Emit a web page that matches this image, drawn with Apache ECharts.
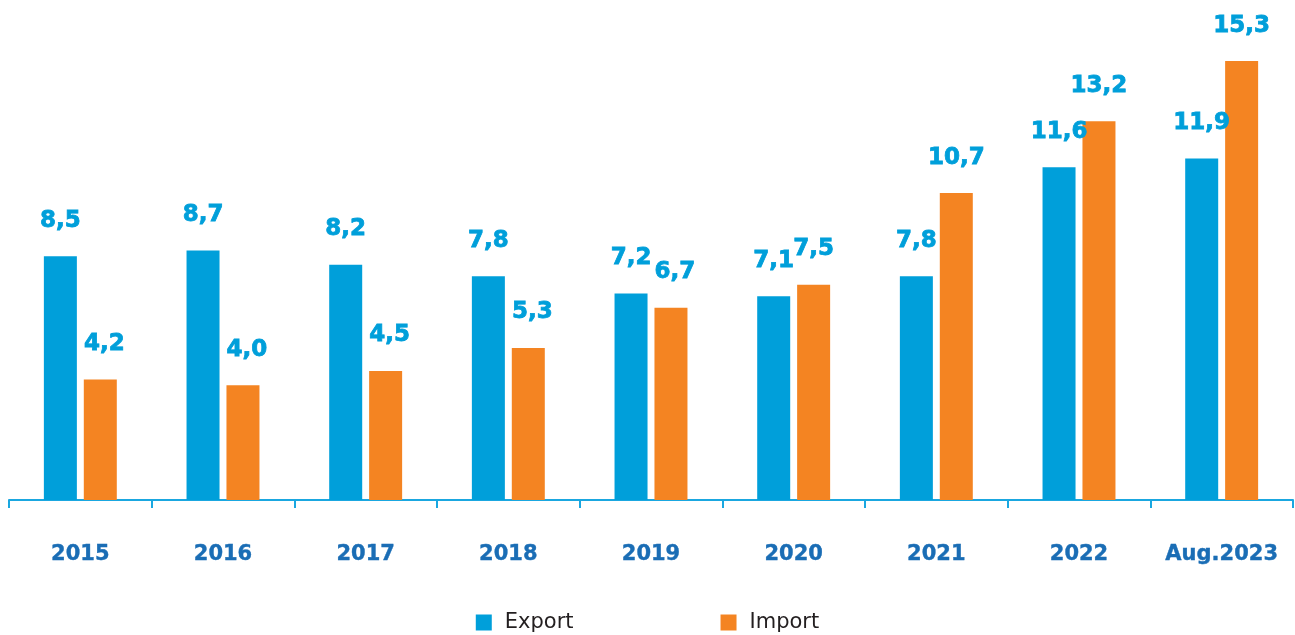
<!DOCTYPE html>
<html>
<head>
<meta charset="utf-8">
<script src="https://cdn.jsdelivr.net/npm/echarts@6/dist/echarts.min.js"></script>
<style>
  html, body { margin: 0; padding: 0; background: #fff; }
  #main { width: 1295px; height: 635px; }
</style>
</head>
<body>
<div id="main"></div>
<script>
const categories = ['2015', '2016', '2017', '2018', '2019', '2020', '2021', '2022', 'Aug.2023']
const exportData = [8.5, 8.7, 8.2, 7.8, 7.2, 7.1, 7.8, 11.6, 11.9]
const importData = [4.2, 4.0, 4.5, 5.3, 6.7, 7.5, 10.7, 13.2, 15.3]

const blue = '#009fda'
const orange = '#f48422'

// comma as decimal separator
const fmt = p => p.value.toFixed(1).replace('.', ',')

const labelStyle = {
  show: true,
  position: 'top',
  distance: 24,
  formatter: fmt,
  color: blue,
  fontFamily: 'DejaVu Sans',
  fontWeight: 'bold',
  fontSize: 23,
  textBorderColor: blue,
  textBorderWidth: 0.8
}

// import labels of the first years sit a bit to the right
const importSeriesData = importData.map((v, i) => ({
  value: v,
  label: i < 5 ? { offset: [4, 0] } : {}
}))

const chart = echarts.init(document.getElementById('main'))
chart.setOption({
  animation: false,
  grid: {
    left: 9,
    right: 2,
    top: 41,
    bottom: 135,
    containLabel: false
  },
  legend: {
    top: 612,
    left: 'center',
    padding: 0,
    itemWidth: 16,
    itemHeight: 16,
    itemGap: 147,
    icon: 'rect',
    textStyle: {
      color: '#231f20',
      fontFamily: 'DejaVu Sans',
      fontSize: 21,
      padding: [0, 0, 0, 8]
    },
    data: ['Export', 'Import']
  },
  xAxis: {
    type: 'category',
    data: categories,
    axisLine: {
      lineStyle: { color: '#1aa7e0', width: 2 }
    },
    axisTick: {
      show: true,
      length: 8,
      lineStyle: { color: '#1aa7e0', width: 2 }
    },
    axisLabel: {
      interval: 0,
      margin: 44,
      color: '#1a6db5',
      fontFamily: 'DejaVu Sans',
      fontWeight: 'bold',
      fontSize: 21,
      textBorderColor: '#1a6db5',
      textBorderWidth: 0.4
    }
  },
  yAxis: {
    type: 'value',
    min: 0,
    max: 16,
    show: false,
    splitLine: { show: false }
  },
  series: [
    {
      name: 'Export',
      type: 'bar',
      barWidth: 33,
      barGap: '21%',
      itemStyle: { color: blue },
      label: labelStyle,
      data: exportData
    },
    {
      name: 'Import',
      type: 'bar',
      barWidth: 33,
      itemStyle: { color: orange },
      label: labelStyle,
      data: importSeriesData
    }
  ]
})
</script>
</body>
</html>
